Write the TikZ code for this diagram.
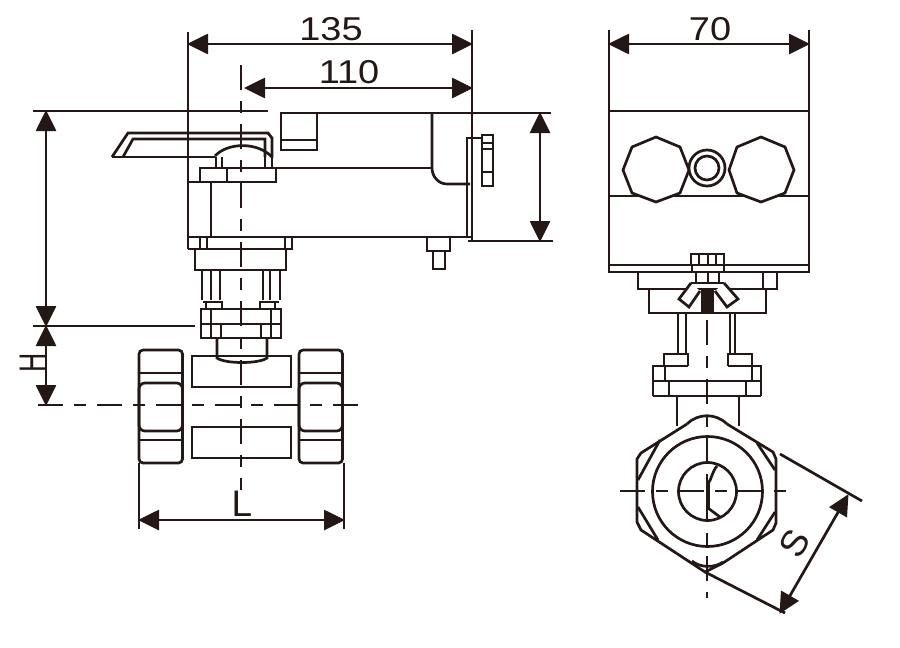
\documentclass[tikz,border=0pt]{standalone}
\usepackage{fontspec}
\setmainfont{Liberation Sans}
\usetikzlibrary{arrows.meta}
\definecolor{ink}{HTML}{231815}
\tikzset{
  ln/.style={draw=ink,line width=2.7pt,line cap=butt,line join=miter},
  center ln/.style={draw=ink,line width=2.7pt,dash pattern=on 25pt off 11pt on 12pt off 11pt},
  dim/.style={draw=ink,line width=2.7pt,{Triangle[length=21pt,width=20pt]}-{Triangle[length=21pt,width=20pt]},shorten <=-1pt,shorten >=-1pt},
  lbl/.style={text=ink,inner sep=0pt,xscale=1.15,font=\fontsize{33}{33}\selectfont},
  biglbl/.style={text=ink,inner sep=0pt,font=\fontsize{37}{37}\selectfont}
}
\begin{document}
\begin{tikzpicture}[x=1pt,y=-1pt]
\useasboundingbox (0,0) rectangle (900,648);
\fill[white] (0,0) rectangle (900,648);
% ---- left view: centre lines
\draw[center ln] (241,65) -- (241,490);
\draw[center ln] (38,405) -- (362,405);
% extension lines
\draw[ln] (188,32) -- (188,249);
\draw[ln] (472,30) -- (472,240);
\draw[ln] (33,111) -- (268,111);
\draw[ln] (33,326) -- (195,326);
\draw[ln] (468,241) -- (553,241);
\draw[ln] (281,113) -- (551,113);
\draw[ln] (139,463) -- (139,529);
\draw[ln] (344,463) -- (344,529);
% handle
\draw[ln] (112,157) -- (128,133) -- (268,133) -- (272,138) -- (272,158);
\draw[ln] (112,157) -- (215,157);
\draw[ln] (123,157) -- (133,139) -- (265,139) -- (265,157);
\draw[ln] (215,156) .. controls (228,142) and (258,142) .. (272,157);
\draw[ln] (216,157) -- (216,168) (222,157) -- (222,168) (265,157) -- (265,168) (272,157) -- (272,168);
% actuator body
\draw[ln] (200,168) rectangle (276,182);
\draw[ln] (227,168) -- (227,182);
\draw[ln] (276,168) -- (432,168);
\draw[ln] (188,182) -- (200,182);
\draw[ln] (211,182) -- (211,237);
\draw[ln] (188,237) -- (472,237);
\draw[ln] (281,113) rectangle (317,150);
\draw[ln] (281,140) -- (317,140);
\draw[ln] (432,113) -- (432,168) .. controls (432,176) and (438,184) .. (447,184) -- (470,184);
\draw[ln] (467,237) -- (467,138) -- (482,138);
\draw[ln] (482,135) rectangle (493,186);
\draw[ln] (482,143) -- (493,143) (482,149) -- (493,149) (482,172) -- (493,172);
\draw[ln] (427,238) -- (427,251) -- (450,251) -- (450,238);
\draw[ln] (433,251) rectangle (445,269);
% flange and posts
\draw[ln] (188,249) -- (292,249) -- (292,237);
\draw[ln] (200,237) -- (200,249) (207,237) -- (207,249) (285,237) -- (285,249);
\draw[ln] (195,249) -- (195,270) -- (286,270) -- (286,249);
\draw[ln] (202,270) -- (202,300) (211,270) -- (211,300) (220,270) -- (220,300);
\draw[ln] (263,270) -- (263,300) (270,270) -- (270,300) (280,270) -- (280,300);
\draw[ln] (203,302) -- (222,302) -- (222,309) (260,309) -- (260,302) -- (279,302);
\draw[ln] (206,302) -- (206,309) (275,302) -- (275,309);
\draw[ln] (201,309) rectangle (281,338);
\draw[ln] (201,324) -- (281,324);
\draw[ln] (211,309) -- (211,338) (271,309) -- (271,338);
\draw[ln] (221,324) -- (221,338) (261,324) -- (261,338);
% stem and body
\draw[ln] (217,338) -- (217,358) .. controls (225,364) and (259,364) .. (267,358) -- (267,338);
\draw[ln] (192,356) rectangle (291,387);
\draw[ln] (192,427) rectangle (291,458);
% end nuts
\foreach \ax in {139,299}{
  \draw[ln,rounded corners=4pt] (\ax,350) rectangle (\ax+43.5,463);
  \draw[ln] (\ax,373) -- (\ax+43.5,373);
  \draw[ln] (\ax,440) -- (\ax+43.5,440);
  \draw[ln,rounded corners=6pt] (\ax,383) rectangle (\ax+43.5,431);
}
% ---- right view
\draw[center ln] (707,320) -- (707,598);
\draw[center ln] (620,491) -- (795,491);
\draw[ln] (609,30) -- (609,272) -- (809,272) -- (809,30);
\draw[ln] (609,111) -- (809,111);
\draw[ln] (609,196) -- (809,196);
\draw[ln] (609,265) -- (809,265);
\draw[ln,fill=white] (656,137) -- (680,147) -- (689,170) -- (680,193) -- (656,202) -- (632,193) -- (623,170) -- (632,147) -- cycle;
\draw[ln,fill=white] (761,137) -- (785,147) -- (794,170) -- (785,193) -- (761,202) -- (737,193) -- (729,170) -- (737,147) -- cycle;
\draw[ln,fill=white] (707,168) circle (18);
\draw[ln] (707,168) circle (12);
% bolt
\draw[ln] (691,254) rectangle (724,265);
\draw[ln] (699,254) -- (699,265) (708,254) -- (708,265) (716,254) -- (716,265);
\draw[ln] (692,265) -- (692,272) (724,265) -- (724,272);
\draw[ln] (696,272) -- (696,283) -- (719,283) -- (719,272);
\draw[ln] (708,272) -- (708,283);
% flange
\draw[ln] (638,272) -- (638,289) -- (777,289) -- (777,272);
\draw[ln] (763,272) -- (763,289);
\draw[ln] (649,289) -- (649,313) -- (766,313) -- (766,289);
% wing nut
\fill[ink] (701,288) -- (714,288) -- (714,313) -- (701,313) -- cycle;
\draw[ln,fill=white] (691,283) -- (679,299) -- (689,307) -- (700,291);
\draw[ln,fill=white] (724,283) -- (738,299) -- (727,307) -- (715,291);
\draw[ln] (691,283) -- (724,283);
% neck
\draw[ln] (678,313) -- (678,354) (686,313) -- (686,354);
\draw[ln] (730,313) -- (730,354) (735,313) -- (735,354);
\draw[ln] (664,366) -- (664,354) -- (688,354) -- (688,366);
\draw[ln] (728,366) -- (728,354) -- (752,354) -- (752,366);
\draw[ln] (653,396) -- (653,366) -- (688,366);
\draw[ln] (728,366) -- (761,366) -- (761,396);
\draw[ln] (653,381) -- (761,381);
\draw[ln] (653,396) -- (761,396);
\draw[ln] (665,366) -- (665,381) (752,366) -- (752,381);
\draw[ln] (669,381) -- (669,396) (746,381) -- (746,396);
\draw[ln] (677,396) -- (677,426) (739,396) -- (739,426);
% hexagon
\draw[ln,line join=round] (687,424) -- (641,453) -- (637,459) -- (637,522) -- (641,530) -- (705,572) -- (723,563) -- (773,530) -- (776,523) -- (776,459) -- (773,452) -- (727,424);
\draw[ln] (687,424) .. controls (698,413) and (716,413) .. (727,424);
\draw[ln] (692,561) .. controls (700,568) and (715,568) .. (723,562);
\draw[ln] (660,440) -- (638,480) (638,507) -- (658,540);
\draw[ln] (757,443) -- (775,470) (775,512) -- (757,540);
\draw[ln] (707.5,491.5) circle (55);
\draw[ln] (707.5,491.5) circle (29);
\draw[ln] (717,466) .. controls (712,472) and (712,478) .. (708,484) -- (708,508) -- (720,517);
\draw[draw=ink,line width=4pt] (708,483) -- (708,508);
% S dimension
\draw[ln] (780,454) -- (862,501);
\draw[ln] (705,572) -- (785,613);
% dimensions
\coordinate (d135a) at (188,44); \coordinate (d135b) at (472,44);
\coordinate (d110a) at (245,88); \coordinate (d110b) at (472,88);
\coordinate (d70a) at (609,44); \coordinate (d70b) at (809,44);
\coordinate (dva) at (46,111); \coordinate (dvb) at (46,326); \coordinate (dvc) at (46,405);
\coordinate (dra) at (540,113); \coordinate (drb) at (540,241);
\coordinate (dla) at (139,520); \coordinate (dlb) at (344,520);
\coordinate (dsa) at (848,495); \coordinate (dsb) at (780,613);
\draw[dim] (d135a) -- (d135b);
\draw[dim] (d110a) -- (d110b);
\draw[dim] (d70a) -- (d70b);
\draw[dim] (dva) -- (dvb);
\draw[dim] (dvb) -- (dvc);
\draw[dim] (dra) -- (drb);
\draw[dim] (dla) -- (dlb);
\draw[dim] (dsa) -- (dsb);
% labels
\node[lbl] (t135) at (331,29) {135};
\node[lbl] (t110) at (349,72) {110};
\node[lbl] (t70) at (710,29) {70};
\node[biglbl] (tl) at (242,504) {L};
\node[biglbl,rotate=90,xscale=0.72] (th) at (33,363) {H};
\node[biglbl,rotate=60] (ts) at (795,543) {S};
\end{tikzpicture}
\end{document}
